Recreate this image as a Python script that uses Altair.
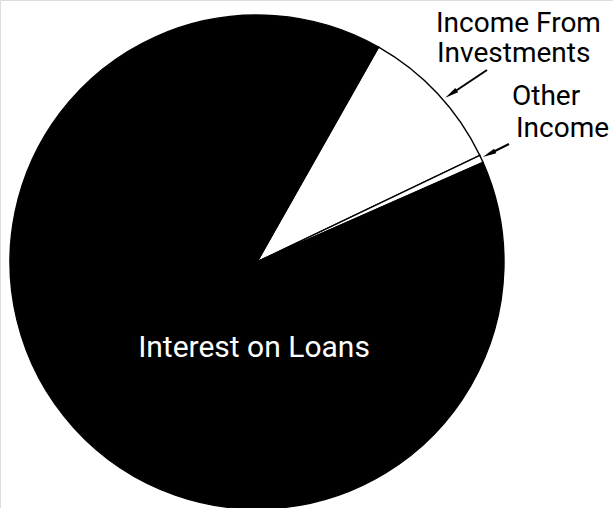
import math
import altair as alt
import pandas as pd

# ---- data ----
categories = ["Income From Investments", "Other Income", "Interest on Loans"]
shares = [9.7, 0.5, 89.8]          # percent of total income
fills = ["white", "white", "black"]

label_lines = ["Income From", "Investments", "Other", "Income", "Interest on Loans"]

# ---- layout constants ----
W, H = 613, 508
CX, CY, R = 257, 262, 247
START = math.radians(29.5)
FONT = "Roboto, sans-serif"

pie_df = pd.DataFrame({"category": categories, "share": shares,
                       "order": list(range(len(categories)))})

pie = alt.Chart(pie_df).mark_arc(
    outerRadius=R, stroke="black", strokeWidth=1.4
).encode(
    theta=alt.Theta("share:Q", stack=True,
                    scale=alt.Scale(range=[START, START + 2 * math.pi])),
    color=alt.Color("category:N", legend=None,
                    scale=alt.Scale(domain=categories, range=fills)),
    order=alt.Order("order:Q"),
    x=alt.value(CX), y=alt.value(CY),
)

# text annotations: (x, baseline y, color, size)
text_pos = [(436, 32, "black", 28), (437, 62, "black", 28),
            (512, 105, "black", 28), (516, 137, "black", 28),
            (254, 357, "white", 30)]
layers = [pie]
for i, (line, (tx, ty, col, sz)) in enumerate(zip(label_lines, text_pos)):
    align = "center" if i == 4 else "left"
    layers.append(
        alt.Chart(pd.DataFrame({"t": [line]})).mark_text(
            align=align, baseline="alphabetic", font=FONT, fontSize=sz,
            color=col
        ).encode(text="t:N", x=alt.value(tx), y=alt.value(ty))
    )

# arrows: tail, head-center, angle
arrows = [((487, 70), (451, 94), 236), ((509, 144), (489, 154), 244)]
head = "M0,-1L0.36,1L-0.36,1Z"
for (x1, y1), (x2, y2), ang in arrows:
    layers.append(
        alt.Chart(pd.DataFrame({"a": [0]})).mark_rule(
            color="black", strokeWidth=2
        ).encode(x=alt.value(x1), y=alt.value(y1),
                 x2=alt.value(x2), y2=alt.value(y2))
    )
    layers.append(
        alt.Chart(pd.DataFrame({"a": [0]})).mark_point(
            shape=head, filled=True, color="black", opacity=1,
            size=190, angle=ang, strokeWidth=0
        ).encode(x=alt.value(x2), y=alt.value(y2))
    )

chart = alt.layer(*layers).properties(
    width=W, height=H, autosize="none", padding=0
).configure_view(stroke=None).configure(background="white")

chart.save("out.html", embed_options={"renderer": "svg", "actions": False})
